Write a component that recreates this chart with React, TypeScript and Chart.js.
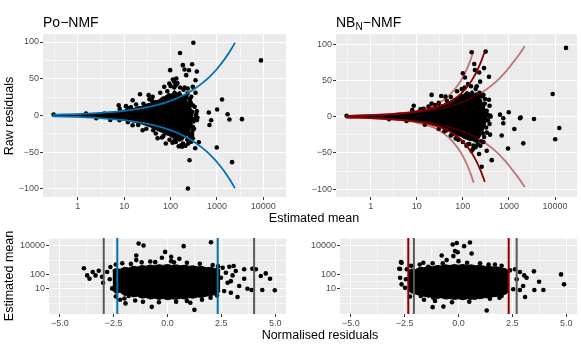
import React, { useEffect, useRef } from 'react';
import { Chart, registerables } from 'chart.js';

Chart.register(...registerables);

const FONT = '"Liberation Sans", Arial, Helvetica, sans-serif';
const BLUE = '#0072B2';
const DARKRED = '#8B0000';
const LIGHTRED = 'rgba(139,0,0,0.5)';
const GREYLINE = '#595959';

// ---------- tick definitions ----------
const meanTicks = [0.3162, 1, 3.162, 10, 31.62, 100, 316.2, 1000, 3162, 10000];
const meanLabels = ['', '1', '', '10', '', '100', '', '1000', '', '10000'];
const rawTicks = [-100, -75, -50, -25, 0, 25, 50, 75, 100];
const rawLabels = ['\u2212100', '', '\u221250', '', '0', '', '50', '', '100'];
const normTicks = [-5, -3.75, -2.5, -1.25, 0, 1.25, 2.5, 3.75, 5];
const normLabels = ['\u22125.0', '', '\u22122.5', '', '0.0', '', '2.5', '', '5.0'];
const meanTicksB = [1, 3.162, 10, 31.62, 100, 1000, 10000, 31623];
const meanLabelsB = ['', '', '10', '', '100', '', '10000', ''];

// ---------- Po-NMF: raw residuals vs estimated mean ----------
const poCurveMu = [0.29, 0.5, 1, 2, 3, 5, 10, 20, 30, 50, 100, 200, 300, 500, 700, 1000, 1500, 2000, 2450];
const poCurveUp = [1.08, 1.41, 2, 2.83, 3.46, 4.47, 6.32, 8.94, 10.95, 14.14, 20, 28.28, 34.64, 44.72, 52.92, 63.25, 77.46, 89.44, 98.99];
const poCurveLow = [-1.08, -1.41, -2, -2.83, -3.46, -4.47, -6.32, -8.94, -10.95, -14.14, -20, -28.28, -34.64, -44.72, -52.92, -63.25, -77.46, -89.44, -98.99];

const poCoreMu = [0.29, 0.5, 1, 2, 3, 5, 8, 12, 16, 20, 25, 30, 38, 45, 55, 65, 75, 90, 105, 120, 140, 160, 180, 200, 225, 250, 280, 310];
const poCoreUp = [0.8, 1.1, 1.6, 2.4, 3.1, 4.3, 6, 8.5, 9.5, 12, 12.5, 15.5, 17, 20, 21, 25, 26, 30, 29, 34, 31, 33, 27, 28, 20, 18, 9, 3];
const poCoreLow = [-0.8, -1.1, -1.6, -2.4, -3.1, -4.3, -5.8, -7.5, -9, -10.5, -12, -13.5, -16, -18, -21, -23, -26, -27, -30, -31, -33, -32, -34, -30, -28, -22, -15, -5];

const poPoints: [number, number][] = [
  [310, 99], [160, 85], [8900, 75], [184, 68.5], [292, 69.8], [98, 61.7], [368, 59.9], [217, 54.9],
  [345, 48], [1290, 21.8], [1010, 8.2], [667, 4], [1700, 1.8], [1860, -5.4], [750, -6.4], [690, -13],
  [3470, -5], [368, 5.9], [368, -6.4], [990, -43.5], [2120, -63.5], [256, -60.8], [236, -99.3],
  [406, -36.3], [340, -44.5], [290, -27.6], [170, -40.4], [122, -33.6], [112, 49], [128, 41],
  [249, 61.6], [280, 25.5], [264, 14], [355, 1.8], [302, -15.4], [290, -24], [21.9, 29], [33.6, 27.7],
  [7.6, 14], [10.9, 12.7], [3.75, 2.7], [48, -24.5], [52.5, -31], [79, -38], [110, -37], [94, 43.5],
  [120, 46], [73, 39], [41, 25.4], [15.2, 20.8], [25, -20], [15.2, -13.2], [7.9, -6.4],
  [200, 62.6], [235, 36.7], [302, 39], [345, 30.9], [133, 50.3], [244, -24.5], [302, -31.3],
  [156, -32.7], [177, -42.6], [280, -35.8],
  [8, 9], [12, 10], [18, 15], [35, 22], [60, 31], [140, 44], [200, 38], [230, 30], [330, 12],
  [350, 0], [330, -5], [320, -18], [270, -32], [240, -38], [210, -41], [150, -42], [65, -30],
  [30, -18], [20, -13], [12, -9], [5, -6], [2.5, -3.8], [1.5, 2.8], [0.3, 1.2],
  [100, 40], [85, 33], [160, 38], [190, 35], [220, 25], [260, 22], [300, 14], [290, 5], [310, -8],
  [260, -28], [230, -33], [185, -38], [130, -36], [95, -33], [70, -28], [42, -20], [26, 16], [14, 11],
  [40, 20], [120, 38], [380, -3], [300, -20], [270, 18],
];

// ---------- NB_N-NMF: raw residuals vs estimated mean ----------
const nbDarkMu = [0.29, 0.5, 1, 2, 3, 5, 10, 20, 30, 50, 80, 100, 130, 160, 200, 250, 300];
const nbDarkUp = [1.08, 1.42, 2.02, 2.88, 3.56, 4.68, 6.91, 10.52, 13.76, 19.81, 28.5, 34.2, 42.66, 51.08, 62.26, 76.2, 90.1];
const nbDarkLow = [-1.08, -1.42, -2.02, -2.88, -3.56, -4.68, -6.91, -10.52, -13.76, -19.81, -28.5, -34.2, -42.66, -51.08, -62.26, -76.2, -90.1];

const nbSteepMu = [0.29, 0.5, 1, 2, 3, 5, 10, 20, 30, 50, 80, 100, 120, 145, 172];
const nbSteepUp = [1.09, 1.44, 2.06, 3.0, 3.78, 5.14, 8.1, 13.5, 18.73, 29.0, 44.3, 54.4, 64.6, 77.3, 91.0];
const nbSteepLow = [-1.09, -1.44, -2.06, -3.0, -3.78, -5.14, -8.1, -13.5, -18.73, -29.0, -44.3, -54.4, -64.6, -77.3, -91.0];

const nbFlatMu = [0.29, 0.5, 1, 2, 3, 5, 10, 20, 30, 50, 100, 200, 300, 500, 800, 1200, 1700, 2200];
const nbFlatUp = [1.08, 1.42, 2.0, 2.84, 3.47, 4.48, 6.35, 9.0, 11.0, 14.3, 20.4, 29.2, 36.0, 46.9, 60.0, 73.8, 86.5, 97];
const nbFlatLow = [-1.08, -1.42, -2.0, -2.84, -3.47, -4.48, -6.35, -9.0, -11.0, -14.3, -20.4, -29.2, -36.0, -46.9, -60.0, -73.8, -86.5, -97];

const nbCoreMu = [0.29, 0.5, 1, 2, 3, 5, 8, 12, 16, 20, 25, 30, 38, 45, 55, 65, 75, 90, 105, 120, 140, 160, 180, 200, 225, 250, 280, 310, 340];
const nbCoreUp = [0.8, 1.1, 1.6, 2.4, 3.1, 4.3, 6, 8.5, 9.5, 12, 12.5, 15.5, 17, 20, 21, 25, 26, 30, 31, 35, 33, 36, 32, 33, 26, 24, 15, 10, 3];
const nbCoreLow = [-0.8, -1.1, -1.6, -2.4, -3.1, -4.3, -5.8, -7.5, -9, -10.5, -12, -13.5, -16, -18, -21, -23, -26, -27, -30, -31, -33, -33, -35, -32, -30, -25, -18, -10, -3];

const nbPoints: [number, number][] = [
  [17300, 94.8], [8900, 31.3], [12400, -15.6], [10100, -31.2], [3500, -3.2], [1740, -2.2], [1800, -1.2],
  [990, 6], [640, 2.8], [755, -2.2], [755, -9], [1310, -17], [697, -26], [2050, -36.8], [955, -44],
  [423, -60], [330, -47], [256, -69], [225, -51.4], [390, -24.8], [270, -23], [155, 88.8], [313, 89.7],
  [183, 64.4], [288, 67], [226, 61], [369, 55], [100, 59.8], [111, 54], [237, 48.3], [177, 72.7],
  [369, 23.4], [340, 2.8], [369, 1], [256, -12.4], [155, -47], [165, -45], [138, -37.7], [200, -33],
  [21, 30], [34, 28.5], [42, 27.6], [8.6, 15], [3.85, 2.3], [21, 18], [43, -19], [60, -24],
  [390, 1.4], [302, 24.4], [236, 29], [277, 15],
  [8, 9], [12, 10], [18, 14], [30, 19], [55, 27], [75, 35], [130, 45], [200, 42], [280, 30],
  [380, 15], [400, 0], [380, -10], [330, -22], [280, -35], [240, -40], [190, -42], [120, -40],
  [80, -32], [55, -26], [30, -17], [15, -11], [6, -6], [2.5, -3.5], [0.3, 1.2],
  [95, 38], [150, 42], [190, 38], [230, 33], [260, 28], [300, 18], [330, 8], [350, -5], [320, -15],
  [290, -28], [250, -34], [210, -38], [170, -40], [130, -38], [100, -35], [70, -30], [40, -20],
  [25, 16], [14, 11], [45, 22], [110, 40],
];

// ---------- Po-NMF: estimated mean vs normalised residuals ----------
const poQuantileLines = [-2.33, 2.33];
const poEmpiricalLines = [-2.96, 4.02];
const poBandRes = [-2.55, -2.4, -2.2, -2.0, -1.8, -1.6, -1.4, -1.2, -1, -0.8, -0.6, -0.4, -0.2, 0, 0.2, 0.4, 0.6, 0.8, 1, 1.2, 1.4, 1.6, 1.8, 2.0, 2.2, 2.35, 2.45];
const poBandUp = [200, 260, 230, 320, 280, 380, 330, 420, 380, 460, 400, 480, 430, 500, 420, 470, 400, 440, 380, 400, 340, 360, 300, 320, 260, 280, 200];
const poBandLow = [8, 5, 6, 3.5, 4, 2.8, 3.2, 2.3, 2.6, 2, 2.3, 1.9, 2.2, 1.8, 2.1, 1.9, 2.3, 2.0, 2.5, 2.3, 2.8, 2.6, 3.2, 3.5, 4, 5, 7];
const poNormPoints: [number, number][] = [
  [-3.88, 270], [-3.73, 87], [-3.62, 51], [-3.47, 149], [-3.34, 87], [-3.19, 182], [-3.04, 70],
  [-2.99, 27], [-2.8, 149], [-2.68, 47], [-2.57, 11], [-2.65, 330], [-1.34, 14000], [-1.11, 10200],
  [-1.45, 2100], [-1.45, 1000], [-0.11, 3700], [-0.57, 720], [-0.26, 1450], [-0.73, 0.58], [-1.8, 3.3],
  [-1.14, 1.3], [-1.95, 1], [2.02, 17400], [0.75, 9300], [0.55, 1230], [0.17, 1700], [0.17, 850],
  [1.25, 0.36], [1.06, 1.1], [2.56, 295], [2.87, 350], [3.07, 390], [3.17, 174], [3.56, 230],
  [3.94, 250], [4.1, 230], [4.33, 79], [4.56, 120], [4.76, 51], [4.4, 8.5], [4.98, 8.1], [3.71, 10.5],
  [3.9, 8.5], [3.25, 2.8], [2.94, 5.5], [2.63, 7.3], [3.56, 51], [2.94, 35], [3.33, 16], [2.71, 132],
  [3.02, 87], [2.79, 27], [2.48, 60],
  [-2.4, 500], [-2.1, 600], [-1.7, 550], [-1.2, 700], [-0.8, 800], [0.3, 700], [0.9, 650], [1.5, 550],
  [2.1, 450], [2.35, 380], [-2.4, 3], [-2.0, 2.2], [-1.5, 1.6], [-0.4, 1.2], [0.4, 1.3], [0.9, 1.5],
  [1.6, 1.8], [2.0, 2.5], [2.3, 3.5], [-2.2, 1.8],
];

// ---------- NB_N-NMF: estimated mean vs normalised residuals ----------
const nbQuantileLines = [-2.33, 2.33];
const nbEmpiricalLines = [-2.07, 2.7];
const nbBandRes = [-2.35, -2.2, -2.0, -1.8, -1.6, -1.4, -1.2, -1, -0.8, -0.6, -0.4, -0.2, 0, 0.2, 0.4, 0.6, 0.8, 1, 1.2, 1.4, 1.6, 1.8, 2.0, 2.2, 2.35];
const nbBandUp = [170, 240, 220, 320, 290, 390, 340, 430, 390, 470, 420, 490, 440, 500, 430, 470, 400, 440, 370, 390, 330, 340, 270, 250, 170];
const nbBandLow = [8, 5.5, 4.5, 3.6, 3.2, 2.7, 2.9, 2.2, 2.5, 2, 2.2, 1.9, 2.1, 1.8, 2.1, 1.9, 2.3, 2.1, 2.5, 2.4, 2.9, 3.1, 3.8, 4.5, 7];
const nbNormPoints: [number, number][] = [
  [-2.67, 720], [-2.75, 250], [-2.71, 60], [-2.64, 21], [-2.48, 12], [-2.4, 230], [-2.44, 47],
  [-2.2, 51], [-2.02, 132], [-1.75, 3.3], [-1.63, 650], [-1.4, 350], [-1.17, 2.5], [-1.09, 1.5],
  [-0.7, 0.6], [-0.78, 2100], [-0.55, 1000], [-0.27, 12000], [-0.08, 15500], [-0.16, 4200],
  [-0.24, 1900], [0, 850], [0.53, 16700], [0.26, 9300], [-2.71, 240], [-2.64, 650], [-0.73, 590],
  [-1.2, 0.55], [1.31, 0.32], [0.61, 2900], [-0.04, 3500], [1.69, 500], [2.39, 195], [2.62, 230],
  [2.85, 150], [3.05, 87], [3.16, 60], [3.5, 166], [3.74, 32], [4.76, 102], [4.9, 21], [3.94, 8.5],
  [3.52, 8.5], [3.09, 2.8], [2.85, 8.5], [3.0, 16], [2.7, 47], [2.54, 9.5], [1.69, 4.3], [2.0, 3.3],
  [1.46, 2.1], [0.77, 2.5],
  [-2.2, 400], [-1.8, 500], [-1.2, 600], [0.4, 650], [1.0, 600], [1.4, 500], [2.0, 400],
  [-2.25, 3], [-1.6, 1.8], [-0.3, 1.2], [0.5, 1.3], [1.9, 2.5],
];

// ---------- axis ranges ----------
const topMeanMin = 0.177;
const topMeanMaxPo = 30900;
const topMeanMaxNb = 30000;
const rawMinPo = -110.9;
const rawMaxPo = 110.9;
const rawMinNb = -110.8;
const rawMaxNb = 114;
const normMin = -5.5;
const normMax = 5.5;
const botMeanMin = 0.185;
const botMeanMax = 34000;

// ---------- helpers ----------
const zipXY = (xs: number[], ys: number[]) => xs.map((x, i) => ({ x, y: ys[i] }));
const pairXY = (pairs: [number, number][]) => pairs.map(([x, y]) => ({ x, y }));

function coreSets(xs: number[], up: number[], low: number[]) {
  return [
    { data: zipXY(xs, up), showLine: true, pointRadius: 0, borderColor: '#000', borderWidth: 1, backgroundColor: '#000', fill: '+1', order: 2 },
    { data: zipXY(xs, low), showLine: true, pointRadius: 0, borderColor: '#000', borderWidth: 1, backgroundColor: '#000', fill: false, order: 2 },
  ];
}
function pointSet(pairs: [number, number][]) {
  return { data: pairXY(pairs), showLine: false, pointRadius: 2.3, pointBackgroundColor: '#000', pointBorderWidth: 0, pointBorderColor: '#000', order: 1 };
}
function curveSet(xs: number[], ys: number[], color: string, width: number) {
  return { data: zipXY(xs, ys), showLine: true, pointRadius: 0, borderColor: color, borderWidth: width, fill: false, cubicInterpolationMode: 'monotone', order: 0 };
}
function vlineSet(x: number, y0: number, y1: number, color: string) {
  return { data: [{ x, y: y0 }, { x, y: y1 }], showLine: true, pointRadius: 0, borderColor: color, borderWidth: 2, fill: false, order: 0 };
}

function axis(pos: 'bottom' | 'left', type: string, min: number, max: number, values: number[], labels: string[], size: number) {
  const major = (i: number) => labels[i] !== undefined && labels[i] !== '';
  return {
    type, position: pos, min, max, bounds: 'data',
    afterBuildTicks: (s: any) => { s.ticks = values.map((v) => ({ value: v })); },
    afterFit: (s: any) => { if (pos === 'bottom') s.height = size; else s.width = size; },
    border: { display: false },
    grid: {
      color: '#FFFFFF',
      lineWidth: (c: any) => (major(c.index) ? 1 : 0.55),
      tickColor: (c: any) => (major(c.index) ? '#333333' : 'rgba(0,0,0,0)'),
      tickLength: 3,
      drawTicks: true,
      drawOnChartArea: true,
    },
    ticks: {
      autoSkip: false, maxRotation: 0, minRotation: 0, padding: 1,
      color: '#4D4D4D', font: { family: FONT, size: 9 },
      callback: (_v: any, i: number) => labels[i] ?? '',
    },
  };
}

const bgPlugin = {
  id: 'panelBg',
  beforeDraw(chart: any) {
    const { ctx, chartArea: a } = chart;
    ctx.save();
    ctx.fillStyle = '#EBEBEB';
    ctx.fillRect(a.left, a.top, a.right - a.left, a.bottom - a.top);
    ctx.restore();
  },
};

type PanelProps = {
  left: number; top: number; width: number; height: number;
  padTop: number; padRight: number;
  xAxis: any; yAxis: any; datasets: any[];
};

function Panel(p: PanelProps) {
  const ref = useRef<HTMLCanvasElement>(null);
  useEffect(() => {
    const chart = new Chart(ref.current as HTMLCanvasElement, {
      type: 'scatter',
      data: { datasets: p.datasets },
      options: {
        animation: false,
        responsive: false,
        devicePixelRatio: 1,
        events: [],
        layout: { padding: { left: 0, top: p.padTop, right: p.padRight, bottom: 0 } },
        plugins: { legend: { display: false }, tooltip: { enabled: false }, title: { display: false } },
        scales: { x: p.xAxis, y: p.yAxis },
      } as any,
      plugins: [bgPlugin],
    });
    return () => chart.destroy();
  }, []);
  return (
    <canvas
      ref={ref}
      width={p.width}
      height={p.height}
      style={{ position: 'absolute', left: p.left, top: p.top, width: p.width, height: p.height }}
    />
  );
}

function VLabel({ text, cx, cy }: { text: string; cx: number; cy: number }) {
  const W = 200, H = 16;
  return (
    <div style={{
      position: 'absolute', left: cx - W / 2, top: cy - H / 2, width: W, height: H,
      lineHeight: `${H}px`, fontFamily: FONT, fontSize: 12.5, textAlign: 'center',
      transform: 'rotate(-90deg)', whiteSpace: 'nowrap', color: '#000',
    }}>{text}</div>
  );
}

function HLabel({ text, cx, top }: { text: string; cx: number; top: number }) {
  const W = 300;
  return (
    <div style={{
      position: 'absolute', left: cx - W / 2, top, width: W, height: 16,
      lineHeight: '16px', fontFamily: FONT, fontSize: 12.5, textAlign: 'center',
      whiteSpace: 'nowrap', color: '#000',
    }}>{text}</div>
  );
}

export default function App() {
  const dsA = [
    ...coreSets(poCoreMu, poCoreUp, poCoreLow),
    pointSet(poPoints),
    curveSet(poCurveMu, poCurveUp, BLUE, 1.8),
    curveSet(poCurveMu, poCurveLow, BLUE, 1.8),
  ];
  const dsB = [
    ...coreSets(nbCoreMu, nbCoreUp, nbCoreLow),
    pointSet(nbPoints),
    curveSet(nbFlatMu, nbFlatUp, LIGHTRED, 1.8),
    curveSet(nbFlatMu, nbFlatLow, LIGHTRED, 1.8),
    curveSet(nbSteepMu, nbSteepUp, LIGHTRED, 1.8),
    curveSet(nbSteepMu, nbSteepLow, LIGHTRED, 1.8),
    curveSet(nbDarkMu, nbDarkUp, DARKRED, 1.8),
    curveSet(nbDarkMu, nbDarkLow, DARKRED, 1.8),
  ];
  const dsC = [
    ...coreSets(poBandRes, poBandUp, poBandLow),
    pointSet(poNormPoints),
    ...poEmpiricalLines.map((v) => vlineSet(v, botMeanMin, botMeanMax, GREYLINE)),
    ...poQuantileLines.map((v) => vlineSet(v, botMeanMin, botMeanMax, BLUE)),
  ];
  const dsD = [
    ...coreSets(nbBandRes, nbBandUp, nbBandLow),
    pointSet(nbNormPoints),
    ...nbEmpiricalLines.map((v) => vlineSet(v, botMeanMin, botMeanMax, GREYLINE)),
    ...nbQuantileLines.map((v) => vlineSet(v, botMeanMin, botMeanMax, DARKRED)),
  ];

  const titleStyle: React.CSSProperties = {
    position: 'absolute', top: 14, fontFamily: FONT, fontSize: 14, lineHeight: '16px',
    color: '#000', whiteSpace: 'nowrap',
  };

  return (
    <div style={{ position: 'absolute', left: 0, top: 0, width: 581, height: 360, background: '#FFFFFF', overflow: 'hidden' }}>
      <Panel left={0} top={0} width={290} height={215} padTop={34} padRight={3}
        xAxis={axis('bottom', 'logarithmic', topMeanMin, topMeanMaxPo, meanTicks, meanLabels, 18)}
        yAxis={axis('left', 'linear', rawMinPo, rawMaxPo, rawTicks, rawLabels, 43)}
        datasets={dsA} />
      <Panel left={290} top={0} width={291} height={215} padTop={34} padRight={4}
        xAxis={axis('bottom', 'logarithmic', topMeanMin, topMeanMaxNb, meanTicks, meanLabels, 18)}
        yAxis={axis('left', 'linear', rawMinNb, rawMaxNb, rawTicks, rawLabels, 46)}
        datasets={dsB} />
      <Panel left={0} top={225} width={290} height={105} padTop={13} padRight={3}
        xAxis={axis('bottom', 'linear', normMin, normMax, normTicks, normLabels, 16)}
        yAxis={axis('left', 'logarithmic', botMeanMin, botMeanMax, meanTicksB, meanLabelsB, 49)}
        datasets={dsC} />
      <Panel left={290} top={225} width={291} height={105} padTop={13} padRight={4}
        xAxis={axis('bottom', 'linear', normMin, normMax, normTicks, normLabels, 16)}
        yAxis={axis('left', 'logarithmic', botMeanMin, botMeanMax, meanTicksB, meanLabelsB, 50)}
        datasets={dsD} />

      <div style={{ ...titleStyle, left: 43 }}>Po{'\u2212'}NMF</div>
      <div style={{ ...titleStyle, left: 336 }}>
        NB<span style={{ fontSize: 10, position: 'relative', top: 3 }}>N</span>{'\u2212'}NMF
      </div>

      <VLabel text="Raw residuals" cx={9} cy={115.5} />
      <HLabel text="Estimated mean" cx={314} top={210} />
      <VLabel text="Estimated mean" cx={9} cy={276} />
      <HLabel text="Normalised residuals" cx={320} top={327} />
    </div>
  );
}
